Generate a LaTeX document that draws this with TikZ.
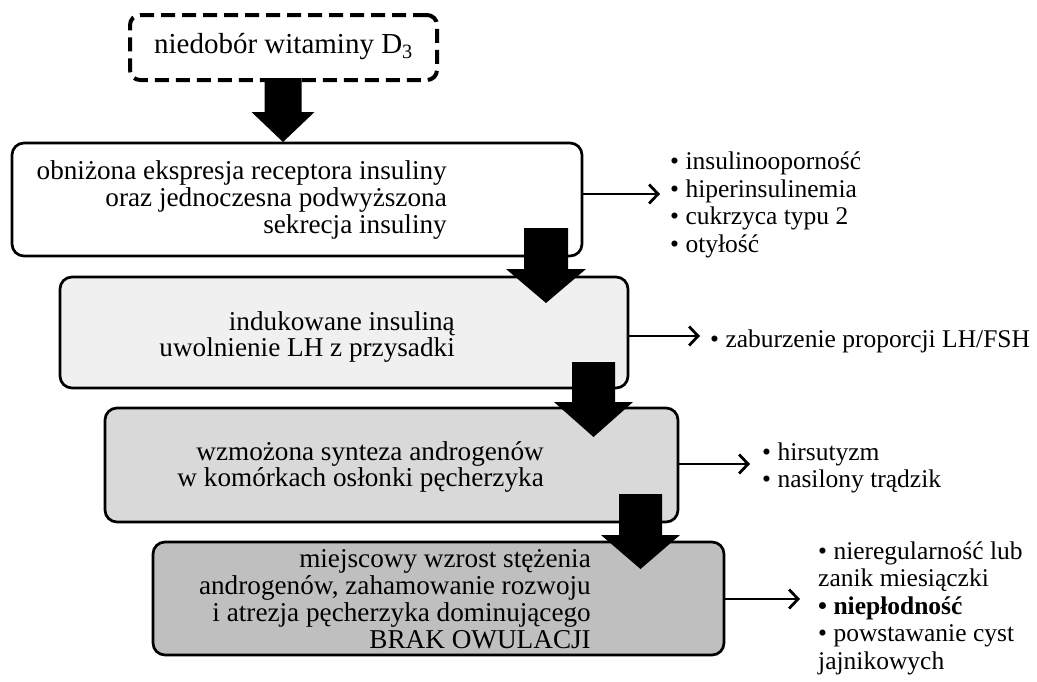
\documentclass[tikz,border=0pt]{standalone}
\usepackage{fontspec}
\setmainfont{Liberation Serif}
\usetikzlibrary{arrows.meta}
\definecolor{fillA}{HTML}{FFFFFF}
\definecolor{fillB}{HTML}{F0F0F0}
\definecolor{fillC}{HTML}{D9D9D9}
\definecolor{fillD}{HTML}{BFBFBF}
\newcommand\fatarrow[6]{\fill[black] (#1-#5,#2) -- (#1+#5,#2) -- (#1+#5,#3) -- (#1+#6,#3) -- (#1,#4) -- (#1-#6,#3) -- (#1-#5,#3) -- cycle;}
\tikzset{
 flowbox/.style={draw=black,line width=2.7pt,rounded corners=12pt,inner sep=0pt},
 startbox/.style={draw=black,fill=white,line width=4pt,dash pattern=on 14pt off 7pt,rounded corners=10pt,inner sep=0pt},
 boxtext/.style={align=right,anchor=east,inner sep=0pt,font=\fontsize{27.2}{26.8}\selectfont},
 listtext/.style={align=left,anchor=west,inner sep=0pt,font=\fontsize{25.5}{27.5}\selectfont},
 side/.style={line width=2.8pt,-{Straight Barb[length=9pt,width=19pt,line width=2.8pt]}}
}
\begin{document}
\begin{tikzpicture}[x=1pt,y=-1pt]
\useasboundingbox (0,0) rectangle (1037,681);
% boxes
\node[startbox,minimum width=307pt,minimum height=65pt] (b0) at (283.5,47.5) {};
\node[flowbox,fill=fillA,minimum width=570pt,minimum height=113pt] (b1) at (297,199.5) {};
\node[flowbox,fill=fillB,minimum width=568pt,minimum height=111pt] (b2) at (344,332.5) {};
\node[flowbox,fill=fillC,minimum width=573pt,minimum height=114pt] (b3) at (391.5,465) {};
\node[flowbox,fill=fillD,minimum width=571pt,minimum height=113pt] (b4) at (438.5,598.5) {};
% block arrows
\fatarrow{283}{78}{112}{142}{18.5}{31.5}
\fatarrow{546}{228}{269}{303}{22}{40}
\fatarrow{593.5}{362}{402}{437}{21.5}{39.5}
\fatarrow{640.5}{494}{535}{569}{21.5}{39.5}
% texts in boxes
\node[inner sep=0pt,font=\fontsize{29}{32}\selectfont] (t0) at (283.5,47) {niedobór witaminy D\textsubscript{3}};
\node[boxtext] (t1) at (447,200) {obniżona ekspresja receptora insuliny\\oraz jednoczesna podwyższona\\sekrecja insuliny};
\node[boxtext] (t2) at (455,337) {indukowane insuliną\\uwolnienie LH z przysadki};
\node[boxtext] (t3) at (544,467) {wzmożona synteza androgenów\\w komórkach osłonki pęcherzyka};
\node[boxtext] (t4) at (591,599) {miejscowy wzrost stężenia\\androgenów, zahamowanie rozwoju\\i atrezja pęcherzyka dominującego\\BRAK OWULACJI};
% side connectors
\coordinate (e1) at (660,194);
\coordinate (e2) at (700,336);
\coordinate (e3) at (750,464);
\coordinate (e4) at (800,599);
\draw[side] (b1.east |- e1) -- (e1);
\draw[side] (b2.east |- e2) -- (e2);
\draw[side] (b3.east |- e3) -- (e3);
\draw[side] (b4.east |- e4) -- (e4);
% lists
\node[listtext] (l1) at (670,205) {• insulinooporność\\• hiperinsulinemia\\• cukrzyca typu 2\\• otyłość};
\node[listtext] (l2) at (710,341) {• zaburzenie proporcji LH/FSH};
\node[listtext] (l3) at (762,468) {• hirsutyzm\\• nasilony trądzik};
\node[listtext] (l4) at (818,608) {• nieregularność lub\\zanik miesiączki\\\textbf{• niepłodność}\\• powstawanie cyst\\jajnikowych};
\end{tikzpicture}
\end{document}
